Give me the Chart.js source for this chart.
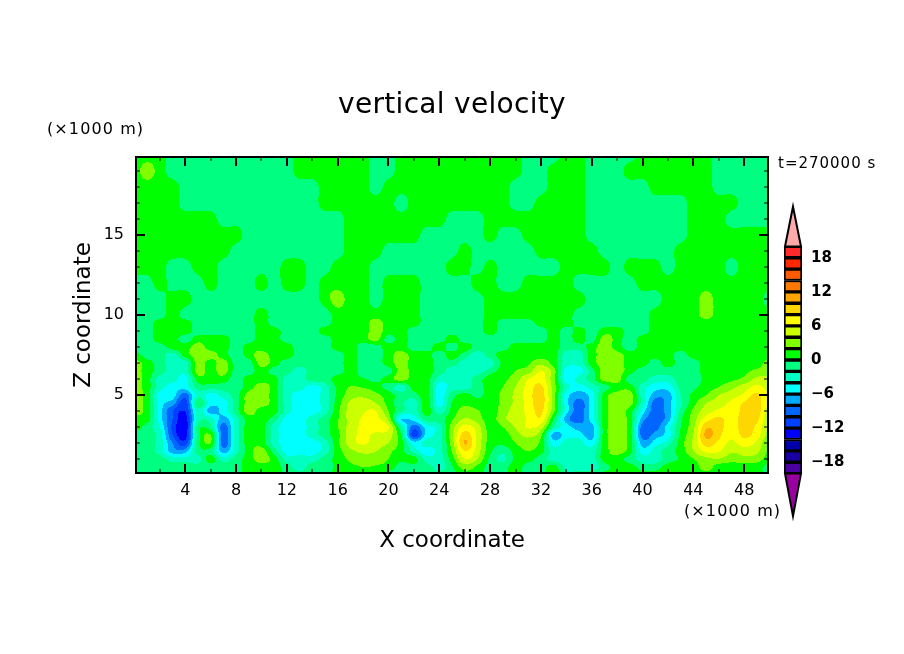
<!DOCTYPE html>
<html>
<head>
<meta charset="utf-8">
<title>vertical velocity</title>
<script src="https://cdn.jsdelivr.net/npm/chart.js@4"></script>
<style>
  html, body { margin: 0; padding: 0; background: #fff; }
  #wrap { position: relative; width: 904px; height: 654px; overflow: hidden; }
  #field { position: absolute; left: 0; top: 0; }
  #bar { position: absolute; left: 770px; top: 195px; }
</style>
</head>
<body>
<div id="wrap">
  <canvas id="field" width="904" height="654"></canvas>
  <canvas id="bar" width="134" height="330"></canvas>
</div>
<script>
const FONT = '"DejaVu Sans"';

// grid nodes, km
const xNodes = [0,1,2,3,4,5,6,7,8,9,10,11,12,13,14,15,16,17,18,19,20,21,22,23,24,25,26,27,28,29,30,31,32,33,34,35,36,37,38,39,40,41,42,43,44,45,46,47,48,49,50];
const zNodes = [20,19,18,17,16,15,14,13,12,11,10,9.5,9,8.5,8,7.5,7,6.5,6,5.5,5,4.5,4,3.5,3,2.5,2,1.5,1,0.5,0];

// vertical velocity, one row per zNodes entry
const wField = [
  [1,1,1,-1,-1,-1,-1,-1,-1,-1, -1,-1,-1,1,1,1,1,1,1,-1, -1,1,1,1,1,1,1,1,1,1, 1,-1,-1,-1,1,1,-1,-1,-1,-1, 1,1,1,1,1,1,-1,-1,-1,-1,-1],
  [1,3,1,-1,-1,-1,-1,-1,-1,-1, -1,-1,-1,1,1,1,1,1,1,-1, -1,1,1,1,1,1,1,1,1,1, 1,-1,-1,1,1,1,-1,-1,-1,1, 1,1,1,1,1,1,-1,-1,-1,-1,-1],
  [1,1,1,1,-1,-1,-1,-1,-1,-1, -1,-1,-1,-1,-1,1,1,1,1,-1, 1,1,1,1,1,1,1,1,1,1, -1,-1,-1,1,1,1,-1,-1,-1,-1, -1,1,1,1,1,1,-1,-1,-1,-1,-1],
  [1,1,1,1,-1,-1,-1,-1,-1,-1, -1,-1,-1,-1,-1,1,1,1,1,1, 1,-1,1,1,1,1,1,1,1,1, -1,-1,1,1,1,1,-1,-1,-1,-1, -1,-1,-1,-1,1,1,1,1,-1,-1,-1],
  [1,1,1,1,1,1,1,-1,-1,-1, -1,-1,-1,-1,-1,-1,-1,1,1,1, 1,1,1,1,1,-1,-1,-1,1,1, 1,1,1,1,1,1,-1,-1,-1,-1, -1,-1,-1,-1,1,1,1,-1,-1,-1,-1],
  [1,1,1,1,1,1,1,1,1,-1, -1,-1,-1,-1,-1,-1,-1,1,1,1, 1,1,1,-1,-1,-1,-1,-1,1,-1, -1,1,1,1,1,1,-1,-1,-1,-1, -1,-1,-1,-1,1,1,1,1,1,1,1],
  [1,1,1,1,1,1,1,1,-1,-1, -1,-1,-1,-1,-1,-1,-1,1,1,1, -1,-1,-1,-1,-1,-1,1,-1,-1,-1, -1,-1,1,1,1,1,1,-1,-1,-1, -1,-1,-1,1,1,1,1,1,1,1,1],
  [1,1,1,-1,-1,1,1,-1,-1,-1, -1,-1,1,1,-1,-1,1,1,1,-1, -1,-1,-1,-1,-1,1,1,-1,1,-1, -1,-1,-1,-1,1,1,1,1,-1,1, 1,1,-1,1,1,1,1,-1,1,1,1],
  [-1,-1,1,-1,-1,-1,1,-1,-1,-1, 1,-1,1,1,-1,1,1,1,1,-1, 1,1,1,-1,-1,-1,-1,1,1,-1, -1,1,1,1,1,-1,-1,-1,-1,-1, 1,1,1,1,1,1,1,1,1,1,1],
  [-1,-1,-1,1,1,-1,-1,-1,-1,-1, -1,-1,-1,-1,-1,1,3,1,1,-1, 1,1,1,-1,-1,-1,-1,-1,1,1, 1,1,1,1,1,1,-1,-1,-1,-1, -1,-1,1,1,1,3,1,1,1,1,-1],
  [-1,-1,-1,1,-1,-1,-1,-1,-1,-1, 1,-1,-1,-1,-1,-1,1,1,1,1, 1,1,1,-1,-1,-1,-1,-1,1,1, 1,1,1,1,1,-1,-1,-1,-1,-1, -1,1,1,1,1,3,1,1,1,1,1],
  [-1,-1,1,1,1,-1,-1,-1,-1,-1, 1,-1,-1,-1,-1,-1,1,1,1,3, 1,1,1,-1,-1,-1,-1,-1,1,-1, -1,-1,1,1,1,-1,-1,-1,-1,-1, -1,1,1,1,1,1,1,1,1,1,1],
  [-1,-1,1,1,1,-1,-1,-1,-1,-1, 1,1,-1,-1,-1,1,1,1,1,3, 1,1,-1,-1,-1,-1,-1,-1,1,-1, -1,-1,-1,1,-1,1,-1,1,1,-1, -1,1,1,1,1,1,1,1,1,1,1],
  [-1,-1,1,1,-1,1,1,1,-1,-1, 1,1,-1,-1,-1,-1,1,1,1,3, -1,1,-1,-1,-1,1,-1,-1,-1,-1, -1,-1,-1,1,-1,1,-1,3,1,-1, 1,1,1,1,1,1,1,1,1,1,1],
  [-1,-1,-1,1,1,3,1,1,-1,1, 1,1,1,-1,-1,-1,1,1,-1,-1, 1,1,-1,-1,1,-1,1,-1,-1,-1, 1,1,1,1,-1,-1,1,3,1,-1, 1,1,1,1,1,1,1,1,1,1,1],
  [1,-1,-1,-3,1,3,3,1,-1,1, 3,1,1,-1,-1,-1,-1,1,-1,-1, 1,3,1,1,-1,1,-1,-3,-1,1, 1,1,1,1,-3,-3,1,3,3,1, 1,1,1,-1,1,1,1,1,1,1,1],
  [3,1,-1,-3,-3,3,1,3,-1,-1, 3,1,-1,-1,-1,-1,-1,1,-1,-1, 1,3,1,1,-1,-1,-3,-3,-3,0.5, 1.5,1.7,3.5,1,-3,-3,1,3,3,1, 1,-1,1,-1,-1,1,1,1,1,1,3],
  [3,1,-1,-3,-3,3,1,3,-1,-1, 1,-1,-1,-3,-1,-1,-1,1,-1,-1, -1,3,1,1,-1,-3,-3,-3,-1,1, 2,3,6,3,-5,-5,-1,3,3,1, -1,-1,-1,-1,-1,1,1,1,1.5,2.5,3],
  [3,1,-3,-3,-5,1,1,1,-1,1, 1,1,-3,-3,-1,-1,1,1,0.2,-0.5, 1,3,1,1,-3,-3,-3,-1,1,1.5, 3,6,7,2.5,-5,-3,-1,3,3,-1, -1,-3,-3,-1,-1,0.5,1,1.5,2.5,4.5,4.5],
  [3,1,-3,-5,-5,-1,-1,-1,-1,1, 3,1,-3,-3,-5,-3,0.5,2.1,1.8,1, -1,-3,1,1,-5,-3,-3,-1,1,2, 4,6.8,8.5,3,-3,-5,-3,-1,1,1, -3,-5,-5,-1.5,-0.5,1,2,3.5,5,6.5,5],
  [3,1,-5,-5,-9,-3,-5,-3,-1,3, 3,1,-3,-5,-5,-3,0.5,3,3.5,2.5, 1,-1,-1,1,-5,-1,0.7,-0.5,1,2.5, 4.5,7,9,3,-5,-7,-5,1,3,3, -3,-7,-7,-2,0.5,2,4,5,6.5,8.5,6],
  [3,1,-5,-7,-11,-0.5,-5,-5,-1,3, 3,1,-3,-5,-5,-3,1,4.5,5,4, 1.2,-1.5,-3,1,-5,0.1,1.5,0.8,1,2.6, 4.5,6.8,9,3,-5,-9,-5,1,3,3, -3,-9,-7,-2.5,1.2,4,5,6.5,8.2,9,5.5],
  [3,1,-5,-10,-12,-3,-7,-5,-1,3, 1,1,-3,-5,-5,-3,1.5,4.8,5.8,6, 2,-1.5,-3,1,-3,0.7,3,2.2,0.7,3, 5,6.5,8.5,2.5,-5,-9,-5,1,3,1, -5,-9,-7,-1.5,2.5,5,6.5,7,8.5,9,5],
  [1,1,-5,-10,-13,-3,-3,-7,-3,1, 1,-1,-5,-5,-3,-1,1.8,4.8,6.2,6.5, 3.5,-6,-5,-1,-1,1.7,4.2,3,1,3.5, 5,6.2,7.5,0,-7,-9,-5,1,3,1, -7,-9,-7,-0.5,3,7,8.5,7,9,8.5,4],
  [1,-1,-4,-10.5,-13.5,-1,-1.5,-9,-3,1, 1,-3,-5,-5,-3,-1,1.9,4.8,6.5,7, 6,-2,-9,-5,-3,3,6.8,5,1,2, 4.2,6.2,5,-2,-5,-7,-7,1,3,1, -9,-9,-5,0,3.5,9.5,8.8,7,9,7.5,3.5],
  [-1,-1,-3,-10,-13,-1,2,-9,-3,1, 1,-3,-5,-5,-3,-1,1.5,5,6.5,5.5, 5,0,-11,-5,-3,3.5,9,5.5,1.2,1, 3,4.5,2.5,-7,-5,-5,-7,1,3,1, -9,-7,-5,0.5,4,10.5,8.5,6.5,8.5,7,3],
  [-1,-1,-3,-8,-11,-1,2,-9,-3,1, 1,-3,-5,-5,-5,-3,1.5,5,6.3,5, 4,1,-5,-3,-3,3,10.2,5.5,1,0.5, 2,3,1.5,-5,-3,-3,-5,1,3,1, -7,-5,-3,1,4.5,9,7.5,5.5,7,5.5,2],
  [-1,-1,-3,-7,-7,-1,-1,-7,-3,1, 3,-1,-5,-5,-5,-3,1,3.5,4.5,4.1, 2.5,0.8,-3,-5,-3,2.2,8,5,0.5,-1.5, 1,2,0.8,-3,-3,-3,-3,1,3,1, -5,-3,-1,0.9,4,6.5,6.2,4.3,5,4.5,1.5],
  [-1,-1,-1,-3,-3,-3,1,-3,-1,1, 3,1,-3,-3,-3,-1,0.7,2.5,3,2.8, 2,0.5,1,-3,-3,1,6,4,-0.5,-2.5, 0.5,0.8,-1,-3,-3,-3,-3,1,1,-1, -3,-3,-1,0.3,2,3.5,3.9,2.8,3.3,3,1],
  [-1,-1,-1,-1,-1,-1,-1,-1,-1,1, 1,1,-1,-3,-1,-1,0.5,1.5,2,1.8, 1.2,-1,-1,-1,-3,-0.2,3,1.5,-0.8,-1, 1,-1,-1,1,-3,-3,-3,-1,1,1, -1,-1,1,1,1,3,1,1,1,1,-1],
  [-1,-1,-1,-1,-1,-1,-1,-1,-1,1, 1,1,-1,-1,-1,-1,1,1,1,1, -1,-1,-1,-1,-1,-1,1,1,-1,-1, 1,-1,-1,1,-1,-1,-1,1,1,1, 1,1,1,1,1,1,1,1,1,1,-1]
];

// contour bands, bottom to top
const bandEdges = [-20,-18,-16,-14,-12,-10,-8,-6,-4,-2,0,2,4,6,8,10,12,14,16,18,20];
const bandColors = ['#4b00a0','#1a00a0','#0000aa','#0000ff','#0040ff','#0066ff','#00aaff','#00ffff','#00ffc0','#00ff80','#00ff00','#80ff00','#ccff00','#ffff00','#ffd700','#ffa500','#ff7800','#ff5a00','#ff2800','#ff2a2a'];
const underColor = '#9900a0';
const overColor = '#ffaaaa';

const xTicks = [2,4,6,8,10,12,14,16,18,20,22,24,26,28,30,32,34,36,38,40,42,44,46,48];
const xTickLabels = [4,8,12,16,20,24,28,32,36,40,44,48];
const zTicks = [1,2,3,4,5,6,7,8,9,10,11,12,13,14,15,16,17,18,19];
const zTickLabels = [5,10,15];
const barTicks = [-18,-12,-6,0,6,12,18];

function cubic(a, b, c, d, t) {
  return b + 0.5 * t * (c - a + t * (2 * a - 5 * b + 4 * c - d + t * (3 * (b - c) + d - a)));
}

// smooth lookup for the fill only, clamped so it adds no new bands
function wAt(x, z) {
  const nx = xNodes.length, nz = zNodes.length;
  const i = Math.min(Math.max(Math.floor(x), 0), nx - 2);
  let j = 0;
  while (j < nz - 2 && zNodes[j + 1] > z) j++;
  const fx = (x - xNodes[i]) / (xNodes[i + 1] - xNodes[i]);
  const fz = (zNodes[j] - z) / (zNodes[j] - zNodes[j + 1]);
  const rowAt = jj => {
    const r = wField[Math.min(Math.max(jj, 0), nz - 1)];
    return cubic(r[Math.max(i - 1, 0)], r[i], r[i + 1], r[Math.min(i + 2, nx - 1)], fx);
  };
  const v = cubic(rowAt(j - 1), rowAt(j), rowAt(j + 1), rowAt(j + 2), fz);
  const corners = [wField[j][i], wField[j][i + 1], wField[j + 1][i], wField[j + 1][i + 1]];
  return Math.min(Math.max(v, Math.min(...corners)), Math.max(...corners));
}

function bandColor(w) {
  if (w < bandEdges[0]) return underColor;
  for (let k = 0; k < bandColors.length; k++) {
    if (w < bandEdges[k + 1]) return bandColors[k];
  }
  return overColor;
}

// fills the plot area band by band, going through the scales
const contourFill = {
  id: 'contourFill',
  beforeDatasetsDraw(chart) {
    const { ctx, chartArea: a, scales } = chart;
    const step = 1;
    ctx.save();
    for (let py = a.top; py < a.bottom; py += step) {
      const z = scales.y.getValueForPixel(py + step / 2);
      let start = a.left, cur = null;
      for (let px = a.left; px < a.right; px += step) {
        const c = bandColor(wAt(scales.x.getValueForPixel(px + step / 2), z));
        if (c !== cur) {
          if (cur) { ctx.fillStyle = cur; ctx.fillRect(start, py, px - start, step); }
          cur = c; start = px;
        }
      }
      ctx.fillStyle = cur;
      ctx.fillRect(start, py, a.right - start, step);
    }
    ctx.restore();
  }
};

// inward ticks on all four sides, frame and the loose labels
const frameAndNotes = {
  id: 'frameAndNotes',
  afterDatasetsDraw(chart) {
    const { ctx, chartArea: a, scales } = chart;
    ctx.save();
    ctx.strokeStyle = '#000';
    xTicks.forEach(v => {
      const major = xTickLabels.includes(v);
      const p = Math.round(scales.x.getPixelForValue(v));
      const len = major ? 9 : 4;
      ctx.lineWidth = major ? 2 : 1;
      ctx.beginPath();
      ctx.moveTo(p, a.bottom); ctx.lineTo(p, a.bottom - len);
      ctx.moveTo(p, a.top); ctx.lineTo(p, a.top + len);
      ctx.stroke();
    });
    zTicks.forEach(v => {
      const major = zTickLabels.includes(v);
      const p = Math.round(scales.y.getPixelForValue(v));
      const len = major ? 9 : 4;
      ctx.lineWidth = major ? 2 : 1;
      ctx.beginPath();
      ctx.moveTo(a.left, p); ctx.lineTo(a.left + len, p);
      ctx.moveTo(a.right, p); ctx.lineTo(a.right - len, p);
      ctx.stroke();
    });
    ctx.lineWidth = 2;
    ctx.strokeRect(a.left, a.top, a.right - a.left, a.bottom - a.top);

    ctx.fillStyle = '#000';
    ctx.textBaseline = 'middle';
    ctx.textAlign = 'center';
    ctx.font = '28px ' + FONT;
    ctx.letterSpacing = '0.3px';
    ctx.fillText('vertical velocity', (a.left + a.right) / 2, 106);
    ctx.textAlign = 'left';
    ctx.font = '16px ' + FONT;
    ctx.letterSpacing = '1.1px';
    ctx.fillText('(\u00d71000 m)', 47, 130);
    ctx.fillText('(\u00d71000 m)', 684, 512);
    ctx.font = '15px ' + FONT;
    ctx.letterSpacing = '1px';
    ctx.fillText('t=270000 s', 778, 164);
    ctx.restore();
  }
};

new Chart(document.getElementById('field'), {
  type: 'scatter',
  data: {
    datasets: [{
      label: 'vertical velocity',
      data: zNodes.flatMap((z, j) => xNodes.map((x, i) => ({ x: x, y: z, w: wField[j][i] }))),
      pointRadius: 0
    }]
  },
  options: {
    responsive: false,
    devicePixelRatio: 1,
    animation: false,
    events: [],
    layout: { padding: { left: 70, right: 136, top: 157, bottom: 99 } },
    plugins: {
      legend: { display: false },
      tooltip: { enabled: false }
    },
    scales: {
      x: {
        type: 'linear',
        min: 0.125,
        max: 49.875,
        grid: { display: false, drawTicks: false },
        border: { display: false },
        afterBuildTicks: s => { s.ticks = xTicks.map(v => ({ value: v })); },
        afterFit: s => { s.height = 82; },
        ticks: {
          autoSkip: false,
          maxRotation: 0,
          padding: 8,
          color: '#000',
          font: { family: FONT, size: 16 },
          callback: v => xTickLabels.includes(v) ? String(v) : ''
        },
        title: {
          display: true,
          text: 'X coordinate',
          color: '#000',
          font: { family: FONT, size: 23, weight: 'normal' },
          padding: { top: 0, bottom: 0 }
        }
      },
      y: {
        type: 'linear',
        min: 0.125,
        max: 19.875,
        grid: { display: false, drawTicks: false },
        border: { display: false },
        afterBuildTicks: s => { s.ticks = zTicks.map(v => ({ value: v })); },
        afterFit: s => { s.width = 66; },
        ticks: {
          autoSkip: false,
          padding: 12,
          color: '#000',
          font: { family: FONT, size: 16 },
          callback: v => zTickLabels.includes(v) ? String(v) : ''
        },
        title: {
          display: true,
          text: 'Z coordinate',
          color: '#000',
          font: { family: FONT, size: 23, weight: 'normal' },
          padding: { top: 0, bottom: 0 }
        }
      }
    }
  },
  plugins: [contourFill, frameAndNotes]
});

// end triangles of the colour bar
const barEnds = {
  id: 'barEnds',
  afterDatasetsDraw(chart) {
    const { ctx, chartArea: a, scales } = chart;
    const mid = (a.left + a.right) / 2;
    const tri = (base, tip, color) => {
      ctx.beginPath();
      ctx.moveTo(a.left + 1, scales.y.getPixelForValue(base));
      ctx.lineTo(mid, scales.y.getPixelForValue(tip));
      ctx.lineTo(a.right - 1, scales.y.getPixelForValue(base));
      ctx.closePath();
      ctx.fillStyle = color;
      ctx.fill();
      ctx.stroke();
    };
    ctx.save();
    ctx.strokeStyle = '#000';
    ctx.lineWidth = 2;
    tri(20, 27, overColor);
    tri(-20, -27.5, underColor);
    ctx.restore();
  }
};

new Chart(document.getElementById('bar'), {
  type: 'bar',
  data: {
    labels: ['w'],
    datasets: bandColors.map((c, k) => ({
      data: [[bandEdges[k], bandEdges[k + 1]]],
      backgroundColor: c,
      borderColor: '#000',
      borderWidth: 2,
      borderSkipped: false,
      barPercentage: 1,
      categoryPercentage: 1,
      grouped: false
    }))
  },
  options: {
    responsive: false,
    devicePixelRatio: 1,
    animation: false,
    events: [],
    layout: { padding: { left: 14, right: 0, top: 6, bottom: 6 } },
    plugins: { legend: { display: false }, tooltip: { enabled: false } },
    scales: {
      x: { display: false },
      y: {
        position: 'right',
        min: -28,
        max: 28,
        grid: { display: false, drawTicks: false },
        border: { display: false },
        afterBuildTicks: s => { s.ticks = barTicks.map(v => ({ value: v })); },
        afterFit: s => { s.width = 102; s.paddingTop = 0; s.paddingBottom = 0; },
        ticks: {
          autoSkip: false,
          padding: 9,
          color: '#000',
          font: { family: FONT, size: 15, weight: 'bold' },
          callback: v => String(v).replace('-', '\u2212')
        }
      }
    }
  },
  plugins: [barEnds]
});
</script>
</body>
</html>
